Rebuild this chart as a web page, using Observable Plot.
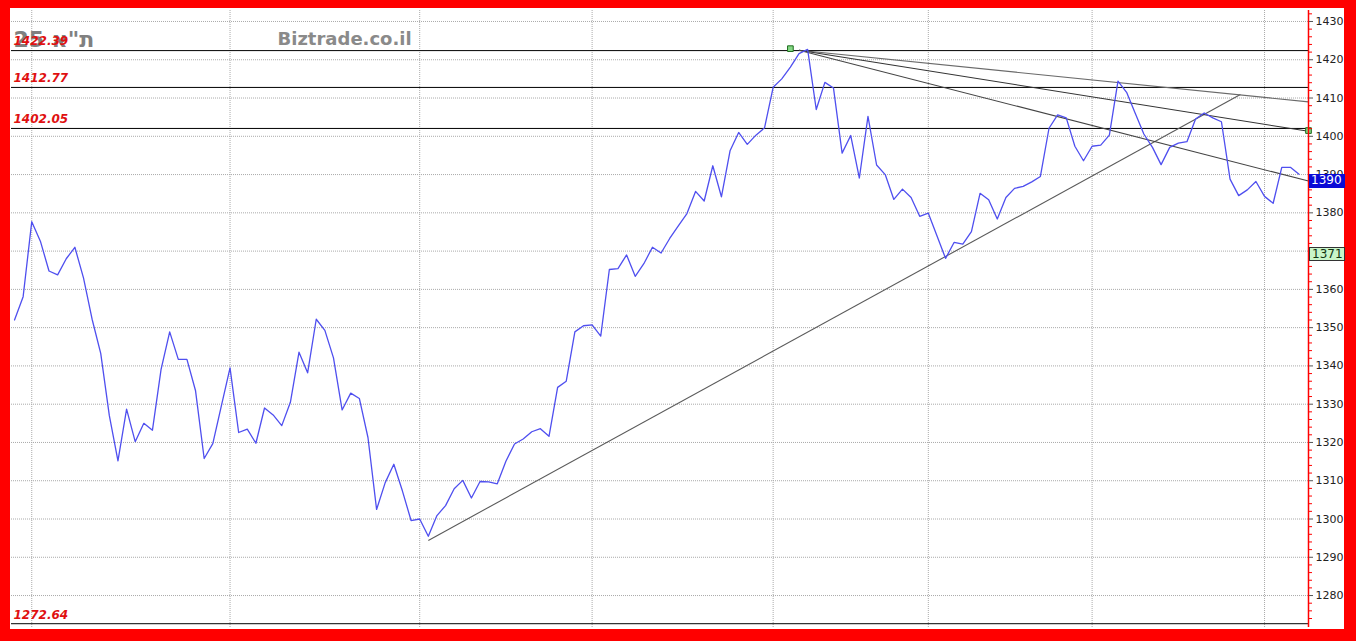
<!DOCTYPE html>
<html><head><meta charset="utf-8">
<script src="https://cdn.jsdelivr.net/npm/d3@7"></script>
<script src="https://cdn.jsdelivr.net/npm/@observablehq/plot@0.6"></script>
<style>
html,body{margin:0;padding:0;}
body{width:1356px;height:641px;background:#ff0000;overflow:hidden;position:relative;font-family:"DejaVu Sans",sans-serif;}
#wrap{position:absolute;left:10px;top:8px;width:1334px;height:621px;background:#fff;}
.tag{position:absolute;font:12px "DejaVu Sans",sans-serif;line-height:13px;height:14px;width:36px;padding-left:2px;box-sizing:border-box;}
</style></head><body><div id="wrap"></div>
<script>
// index closes (daily)
const values = [
1352,1358.1,1377.7,1372.6,1364.8,1363.8,1368,1371,1363,1352.2,
1343.3,1327,1315.2,1328.7,1320.2,1325,1323.2,1339.1,1348.9,1341.7,
1341.7,1333.5,1315.8,1319.7,1329.6,1339.5,1322.6,1323.5,1319.8,1329,
1327.2,1324.4,1330.5,1343.6,1338.2,1352.2,1349.3,1342.1,1328.5,1332.9,
1331.5,1321.3,1302.5,1309.5,1314.3,1307.3,1299.6,1300,1295.5,1300.9,
1303.5,1307.9,1310.1,1305.5,1309.8,1309.7,1309.2,1315.1,1319.6,1320.9,
1322.8,1323.6,1321.6,1334.4,1336,1348.9,1350.5,1350.7,1347.8,1365.2,
1365.4,1369,1363.4,1366.7,1371,1369.5,1373.3,1376.6,1379.8,1385.6,
1383.1,1392.3,1384.2,1396.2,1401,1397.9,1400.3,1402.2,1412.8,1415,
1418.1,1421.6,1422.7,1407,1414.1,1412.6,1395.6,1400.2,1389.1,1405.2,
1392.5,1390,1383.5,1386.2,1384,1379.1,1379.9,1374,1368.1,1372.3,
1371.8,1375.1,1385.1,1383.4,1378.4,1384,1386.4,1386.9,1388.1,1389.5,
1402.1,1405.6,1404.8,1397.4,1393.6,1397.4,1397.7,1400.3,1414.4,1411.5,
1406,1400.6,1397.1,1392.6,1397.1,1398.2,1398.6,1404.5,1406.1,1404.8,
1403.8,1388.8,1384.5,1386,1388.2,1384.3,1382.5,1391.9,1391.9,1390.1
];
const monthTicks = [2, 25, 47, 67, 88, 106, 125, 145];
const yTicks = [1280,1290,1300,1310,1320,1330,1340,1350,1360,1370,1380,1390,1400,1410,1420,1430];
const minorTicks = [1274,1276,1278,1282,1284,1286,1288,1292,1294,1296,1298,1302,1304,1306,1308,1312,1314,1316,1318,1322,1324,1326,1328,1332,1334,1336,1338,1342,1344,1346,1348,1352,1354,1356,1358,1362,1364,1366,1368,1372,1374,1376,1378,1382,1384,1386,1388,1392,1394,1396,1398,1402,1404,1406,1408,1412,1414,1416,1418,1422,1424,1426,1428,1432];
const levels = [1422.39, 1412.77, 1402.05, 1272.64];
const levelLabels = ["1422.39", "1412.77", "1402.05", "1272.64"];
const trendX1 = [48, 91, 91, 91];
const trendY1 = [1294.4, 1422.5, 1422.5, 1422.5];
const trendX2 = [142.2, 150.1, 150.1, 150.1];
const trendY2 = [1410.9, 1409.0, 1401.3, 1388.3];
const trendColors = ["#5a5a5a", "#6a6a6a", "#333333", "#444444"];
const handleX = [90, 150.1];
const handleY = [1422.9, 1401.5];
const lastValue = 1390;
const indicatorValue = 1371;
const titleText = "25 ת\"א";
const siteText = "Biztrade.co.il";
const xDomain = [-0.35, 150.1];
const yDomain = [1271.65, 1432.87];

const data = values.map((v, i) => ({i, v}));
const trends = trendX1.map((x1, k) => ({x1, y1: trendY1[k], x2: trendX2[k], y2: trendY2[k], c: trendColors[k]}));
const handles = handleX.map((x, k) => ({x, y: handleY[k]}));

const chart = Plot.plot({
  width: 1334, height: 621,
  marginLeft: 1, marginRight: 36, marginTop: 2, marginBottom: 2,
  style: {fontFamily: "DejaVu Sans", background: "transparent", overflow: "visible"},
  x: {domain: xDomain, axis: null},
  y: {domain: yDomain, axis: null},
  marks: [
    Plot.gridY(yTicks, {stroke: "#aaa", strokeOpacity: 1, strokeDasharray: "1,1"}),
    Plot.gridX(monthTicks, {stroke: "#aaa", strokeOpacity: 1, strokeDasharray: "1,1"}),
    Plot.text([titleText], {frameAnchor: "top-left", lineAnchor: "middle", dx: 2, dy: 29, fontSize: 22, fontWeight: "bold", fill: "#808080", textAnchor: "start"}),
    Plot.text([siteText], {frameAnchor: "top-left", lineAnchor: "middle", dx: 266, dy: 29, fontSize: 18, fontWeight: "bold", fill: "#8a8a8a", textAnchor: "start"}),
    Plot.ruleY(levels, {stroke: "#000", strokeWidth: 1}),
    Plot.link(trends, {x1: "x1", y1: "y1", x2: "x2", y2: "y2", stroke: "c", strokeWidth: 1.1}),
    Plot.line(data, {x: "i", y: "v", stroke: "#4f4fef", strokeWidth: 1.3}),
    Plot.dot(handles, {x: "x", y: "y", symbol: "square", r: 3.2, fill: "#86d886", stroke: "#1d6d1d", strokeWidth: 1}),
    Plot.ruleX([xDomain[1]], {stroke: "red", strokeWidth: 1.5}),
    Plot.axisY({anchor: "right", ticks: minorTicks, tickSize: 3, tickFormat: () => "", stroke: "red"}),
    Plot.axisY({anchor: "right", ticks: yTicks, tickSize: 4, tickPadding: 3, fontSize: 11, fill: "#222", stroke: "#555", tickFormat: d => String(d)}),
    Plot.text(levelLabels, {x: xDomain[0], y: levels, dx: 2, dy: -9, textAnchor: "start", fill: "#e01010", fontWeight: "bold", fontStyle: "italic", fontSize: 12})
  ]
});
const wrap = document.getElementById("wrap");
wrap.appendChild(chart);

const ys = chart.scale("y");
function tag(val, bg, fg, border) {
  const d = document.createElement("div");
  d.className = "tag";
  d.textContent = String(val);
  d.style.left = "1299px";
  d.style.top = Math.round(ys.apply(val)) + "px";
  d.style.background = bg;
  d.style.color = fg;
  if (border) d.style.border = "1px solid " + border;
  wrap.appendChild(d);
}
tag(lastValue, "#0a0ad6", "#fff", null);
tag(indicatorValue, "#c8f5c8", "#113311", "#333");
</script></body></html>
